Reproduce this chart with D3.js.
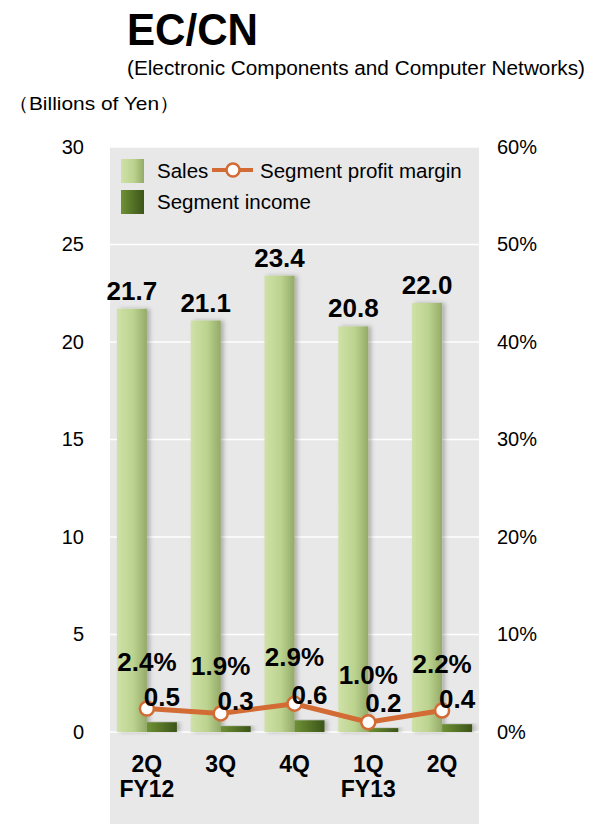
<!DOCTYPE html>
<html><head><meta charset="utf-8">
<script src="https://cdn.jsdelivr.net/npm/d3@7"></script>
<style>body{margin:0;background:#fff;font-family:"Liberation Sans",Arial,sans-serif;}</style>
</head><body><svg id="c" width="590" height="824"></svg>
<script>
const categories = ["2Q", "3Q", "4Q", "1Q", "2Q"];
const subLabels = ["FY12", "", "", "FY13", ""];
const sales = [21.7, 21.1, 23.4, 20.8, 22.0];
const income = [0.5, 0.3, 0.6, 0.2, 0.4];
const margin = [2.4, 1.9, 2.9, 1.0, 2.2];
const leftTicks = [0, 5, 10, 15, 20, 25, 30];
const rightTicks = [0, 10, 20, 30, 40, 50, 60];

const svg = d3.select("#c");
const L = 110, R = 479, T = 147, B = 732;
const x = d3.scaleBand().domain(d3.range(categories.length)).range([L, R]);
const y = d3.scaleLinear().domain([0, 30]).range([B, T]);
const y2 = d3.scaleLinear().domain([0, 60]).range([B, T]);
const bw = 30;

const defs = svg.append("defs");
const g1 = defs.append("linearGradient").attr("id", "gs");
g1.append("stop").attr("offset", "0%").attr("stop-color", "#cfe1a8");
g1.append("stop").attr("offset", "55%").attr("stop-color", "#bcd38f");
g1.append("stop").attr("offset", "100%").attr("stop-color", "#94aa68");
const g2 = defs.append("linearGradient").attr("id", "gi");
g2.append("stop").attr("offset", "0%").attr("stop-color", "#6f9235");
g2.append("stop").attr("offset", "100%").attr("stop-color", "#3c5419");
const f = defs.append("filter").attr("id", "sh").attr("x", "-20%").attr("width", "160%");
f.append("feDropShadow").attr("dx", 3).attr("dy", 0).attr("stdDeviation", 2).attr("flood-color", "#000").attr("flood-opacity", 0.25);

// background
svg.append("rect").attr("x", L).attr("y", T).attr("width", R - L).attr("height", 824 - T).attr("fill", "#e8e8e8");

// gridlines
svg.append("g").selectAll("line").data(leftTicks).join("line")
  .attr("x1", L).attr("x2", R).attr("y1", d => y(d)).attr("y2", d => y(d))
  .attr("stroke", "#fff").attr("stroke-width", 1.5);

// axes
const la = svg.append("g").attr("transform", `translate(${L},0)`)
  .call(d3.axisLeft(y).tickValues(leftTicks).tickSize(0).tickPadding(26));
la.select(".domain").remove();
la.selectAll("text").attr("font-size", 20).attr("font-family", "Liberation Sans, Arial").attr("fill", "#000");
const ra = svg.append("g").attr("transform", `translate(${R},0)`)
  .call(d3.axisRight(y2).tickValues(rightTicks).tickSize(0).tickPadding(18).tickFormat(d => d + "%"));
ra.select(".domain").remove();
ra.selectAll("text").attr("font-size", 20).attr("font-family", "Liberation Sans, Arial").attr("fill", "#000");

const cx = i => x(i) + x.bandwidth() / 2;

// sales bars
svg.append("g").selectAll("rect").data(sales).join("rect")
  .attr("x", (d, i) => cx(i) - bw).attr("width", bw)
  .attr("y", d => y(d)).attr("height", d => B - y(d))
  .attr("fill", "url(#gs)").attr("filter", "url(#sh)");
// income bars
svg.append("g").selectAll("rect").data(income).join("rect")
  .attr("x", (d, i) => cx(i)).attr("width", bw)
  .attr("y", d => y(d)).attr("height", d => B - y(d))
  .attr("fill", "url(#gi)").attr("filter", "url(#sh)");

// line
const line = d3.line().x((d, i) => cx(i)).y(d => y2(d));
svg.append("path").datum(margin).attr("d", line).attr("fill", "none")
  .attr("stroke", "#d26b34").attr("stroke-width", 5);
svg.append("g").selectAll("circle").data(margin).join("circle")
  .attr("cx", (d, i) => cx(i)).attr("cy", d => y2(d)).attr("r", 7)
  .attr("fill", "#fff").attr("stroke", "#d26b34").attr("stroke-width", 2.5);

const bold = "font-weight:bold;font-family:'Liberation Sans',Arial;";
// sales labels
svg.append("g").selectAll("text").data(sales).join("text")
  .attr("x", (d, i) => cx(i) - bw / 2).attr("y", d => y(d) - 9)
  .attr("text-anchor", "middle").attr("font-size", 26).attr("style", bold)
  .text(d => d.toFixed(1));
// margin labels
svg.append("g").selectAll("text").data(margin).join("text")
  .attr("x", (d, i) => cx(i)).attr("y", d => y2(d) - 38)
  .attr("text-anchor", "middle").attr("font-size", 26).attr("style", bold)
  .text(d => d.toFixed(1) + "%");
// income labels
svg.append("g").selectAll("text").data(income).join("text")
  .attr("x", (d, i) => cx(i) + bw / 2).attr("y", d => y(d) - 16)
  .attr("text-anchor", "middle").attr("font-size", 26).attr("style", bold)
  .text(d => d.toFixed(1));

// x labels
svg.append("g").selectAll("text").data(categories).join("text")
  .attr("x", (d, i) => cx(i)).attr("y", 772)
  .attr("text-anchor", "middle").attr("font-size", 23).attr("style", bold).text(d => d);
svg.append("g").selectAll("text").data(subLabels).join("text")
  .attr("x", (d, i) => cx(i)).attr("y", 797)
  .attr("text-anchor", "middle").attr("font-size", 23).attr("style", bold).text(d => d);

// legend
const lg = svg.append("g").attr("font-size", 20.5).attr("font-family", "Liberation Sans, Arial");
lg.append("rect").attr("x", 121).attr("y", 159).attr("width", 23).attr("height", 24).attr("fill", "url(#gs)");
lg.append("text").attr("x", 157).attr("y", 178).text("Sales");
lg.append("line").attr("x1", 212).attr("x2", 253).attr("y1", 170).attr("y2", 170).attr("stroke", "#d26b34").attr("stroke-width", 4);
lg.append("circle").attr("cx", 233).attr("cy", 170).attr("r", 6.5).attr("fill", "#fff").attr("stroke", "#d26b34").attr("stroke-width", 2.5);
lg.append("text").attr("x", 260).attr("y", 178).text("Segment profit margin");
lg.append("rect").attr("x", 121).attr("y", 190).attr("width", 23).attr("height", 24).attr("fill", "url(#gi)");
lg.append("text").attr("x", 157).attr("y", 209).text("Segment income");

// titles
svg.append("text").attr("x", 127).attr("y", 45).attr("font-size", 44).attr("style", bold)
  .attr("textLength", 131).attr("lengthAdjust", "spacingAndGlyphs").text("EC/CN");
svg.append("text").attr("x", 127).attr("y", 75).attr("font-size", 19.5).attr("font-family", "Liberation Sans, Arial")
  .attr("textLength", 458).attr("lengthAdjust", "spacingAndGlyphs").text("(Electronic Components and Computer Networks)");
svg.append("text").attr("x", 8).attr("y", 110).attr("font-size", 19).attr("font-family", "Liberation Sans, Arial")
  .attr("textLength", 172).attr("lengthAdjust", "spacingAndGlyphs").text("（Billions of Yen）");
</script></body></html>
